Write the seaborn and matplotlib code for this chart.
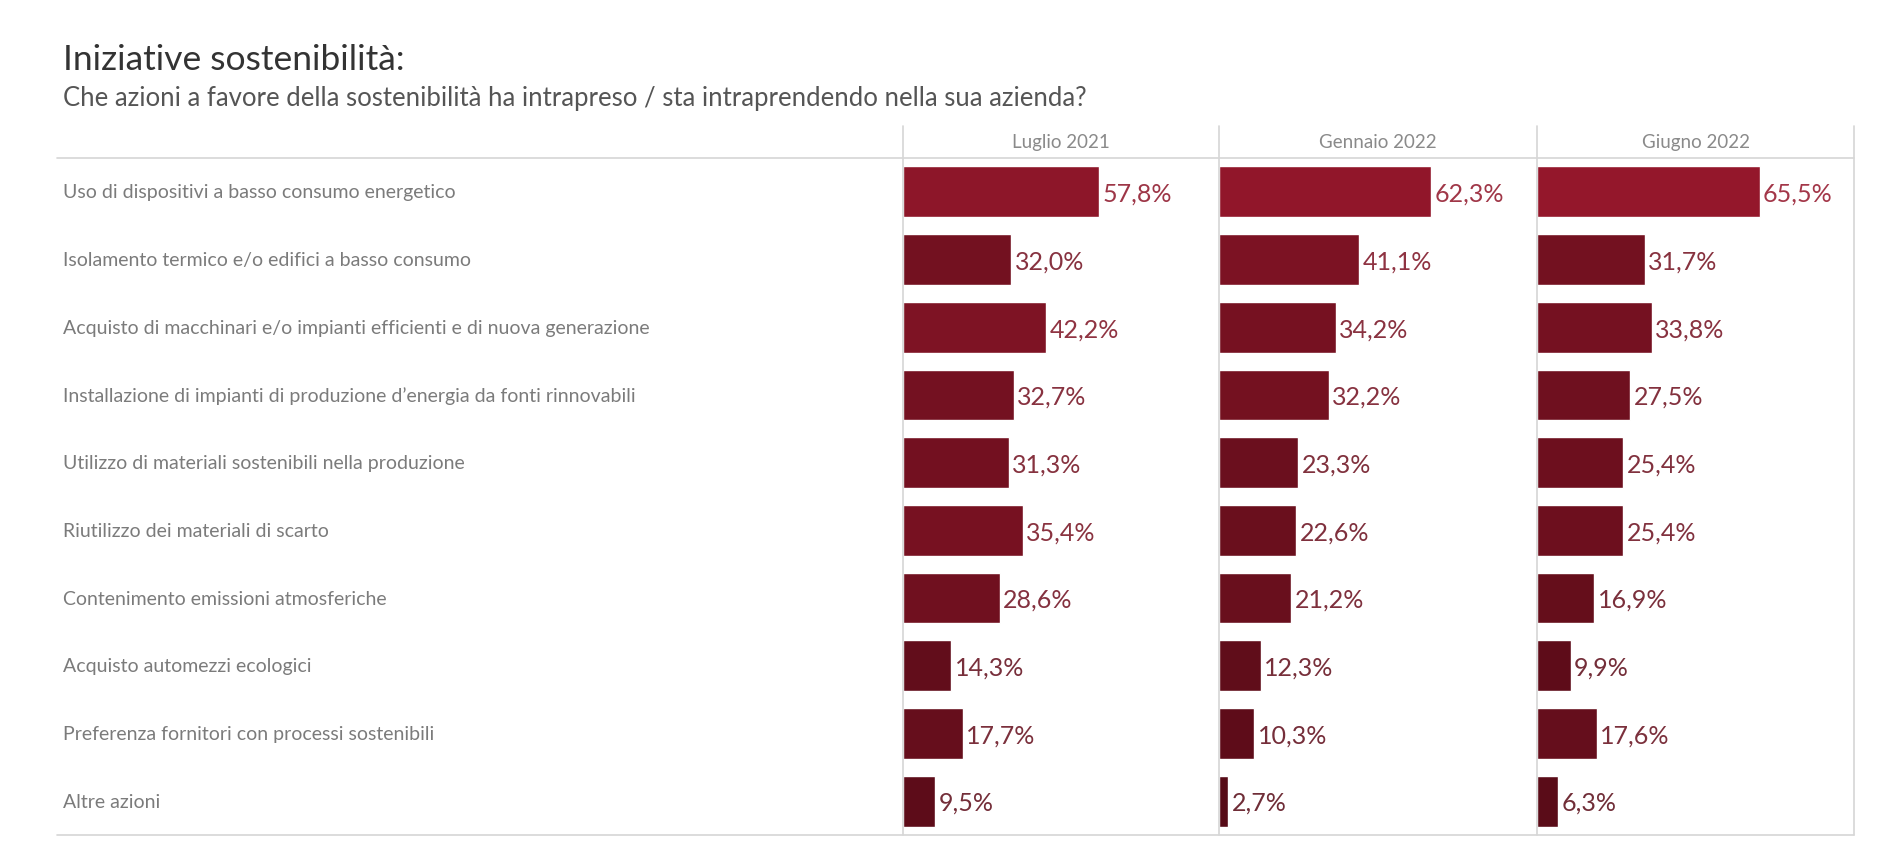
import pandas as pd
import matplotlib.pyplot as plt
import seaborn as sns
from matplotlib.colors import LinearSegmentedColormap, Normalize, to_rgb
from matplotlib.lines import Line2D
from matplotlib.transforms import blended_transform_factory

# Dati
azioni = [
    "Uso di dispositivi a basso consumo energetico",
    "Isolamento termico e/o edifici a basso consumo",
    "Acquisto di macchinari e/o impianti efficienti e di nuova generazione",
    "Installazione di impianti di produzione d\u2019energia da fonti rinnovabili",
    "Utilizzo di materiali sostenibili nella produzione",
    "Riutilizzo dei materiali di scarto",
    "Contenimento emissioni atmosferiche",
    "Acquisto automezzi ecologici",
    "Preferenza fornitori con processi sostenibili",
    "Altre azioni",
]
periodi = ["Luglio 2021", "Gennaio 2022", "Giugno 2022"]
luglio_2021 = [57.8, 32.0, 42.2, 32.7, 31.3, 35.4, 28.6, 14.3, 17.7, 9.5]
gennaio_2022 = [62.3, 41.1, 34.2, 32.2, 23.3, 22.6, 21.2, 12.3, 10.3, 2.7]
giugno_2022 = [65.5, 31.7, 33.8, 27.5, 25.4, 25.4, 16.9, 9.9, 17.6, 6.3]

df = pd.DataFrame({"azione": azioni * 3,
                   "periodo": [p for p in periodi for _ in azioni],
                   "valore": luglio_2021 + gennaio_2022 + giugno_2022})

sns.set_theme(style="white")
plt.rcParams["font.family"] = ["Lato", "DejaVu Sans"]

cmap = LinearSegmentedColormap.from_list("rossi", ["#570b17", "#94172b"])
norm = Normalize(vmin=df["valore"].min(), vmax=df["valore"].max())


def colore_testo(v):
    # le etichette sono un po' piu' chiare delle barre
    r, g, b = to_rgb(cmap(norm(v)))
    k = 0.14
    return (r + (1 - r) * k, g + (1 - g) * k, b + (1 - b) * k)


W, H = 1900, 862
fig = plt.figure(figsize=(19, 8.62), dpi=100)

x_cols = [903, 1219, 1537, 1854]
y_top, y_bot, y_head = 159, 836, 127
line_col = "#d6d6d6"

axes = []
for i, periodo in enumerate(periodi):
    ax = fig.add_axes([x_cols[i] / W, 1 - y_bot / H,
                       (x_cols[i + 1] - x_cols[i]) / W, (y_bot - y_top) / H])
    sub = df[df["periodo"] == periodo]
    colori = {a: cmap(norm(v)) for a, v in zip(sub["azione"], sub["valore"])}
    sns.barplot(data=sub, x="valore", y="azione", hue="azione", palette=colori,
                order=azioni, hue_order=azioni, width=0.75, legend=False,
                saturation=1, ax=ax)
    ax.set_xlim(0, 93.3)
    ax.set_ylim(len(azioni) - 0.5, -0.5)
    ax.set_xlabel("")
    ax.set_ylabel("")
    ax.set_xticks([])
    ax.set_yticks([])
    for s in ax.spines.values():
        s.set_visible(False)
    for j, v in enumerate(sub["valore"]):
        ax.text(v + 1.0, j + 0.02, f"{v:.1f}".replace(".", ",") + "%", va="center",
                ha="left", fontsize=18, color=colore_testo(v))
    ax.text(0.5, (y_bot - 143) / (y_bot - y_top), periodo, transform=ax.transAxes,
            ha="center", va="center", fontsize=13.5, color="#8a8a8a")
    axes.append(ax)

# etichette delle righe
tr = blended_transform_factory(fig.transFigure, axes[0].transData)
for j, a in enumerate(azioni):
    axes[0].text(63 / W, j, a, transform=tr, ha="left", va="center",
                 fontsize=14, color="#7b7b7b", clip_on=False)

# linee della tabella
for y in (y_top, y_bot):
    fig.add_artist(Line2D([57 / W, x_cols[-1] / W], [1 - y / H, 1 - y / H],
                          color=line_col, lw=1.2, transform=fig.transFigure))
for x in x_cols:
    fig.add_artist(Line2D([x / W, x / W], [1 - y_head / H, 1 - y_bot / H],
                          color=line_col, lw=1.2, transform=fig.transFigure))

fig.text(63 / W, 1 - 70 / H, "Iniziative sostenibilit\u00e0:", fontsize=25.5,
         color="#333333", va="baseline", ha="left")
fig.text(63 / W, 1 - 106 / H,
         "Che azioni a favore della sostenibilit\u00e0 ha intrapreso / sta intraprendendo nella sua azienda?",
         fontsize=18.5, color="#555555", va="baseline", ha="left")

fig.savefig("out.png", dpi=100, facecolor="white")
